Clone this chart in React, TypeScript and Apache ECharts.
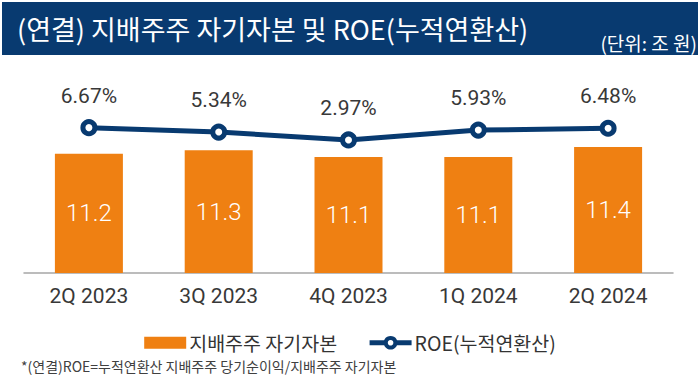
import React, { useEffect, useRef } from "react";
import * as echarts from "echarts";

const categories = ["2Q 2023", "3Q 2023", "4Q 2023", "1Q 2024", "2Q 2024"];
const equityValues = [11.2, 11.3, 11.1, 11.1, 11.4];
const roeValues = [6.67, 5.34, 2.97, 5.93, 6.48];
const seriesNames = ["지배주주 자기자본", "ROE(누적연환산)"];
const titleText = "(연결) 지배주주 자기자본 및 ROE(누적연환산)";
const unitText = "(단위: 조 원)";
const footnoteText = "*(연결)ROE=누적연환산 지배주주 당기순이익/지배주주 자기자본";

const NAVY = "#083A70";
const ORANGE = "#EF8012";
const KR = '"Noto Sans CJK KR", "Noto Sans", sans-serif';
const NUM = 'Roboto, "Liberation Sans", sans-serif';

export default function App() {
  const ref = useRef<HTMLDivElement>(null);

  useEffect(() => {
    if (!ref.current) return;
    const chart = echarts.init(ref.current, null, { renderer: "svg" });
    chart.setOption({
      animation: false,
      backgroundColor: "#ffffff",
      grid: { left: 24, right: 27, top: 90, bottom: 106, containLabel: false },
      graphic: [
        {
          type: "rect",
          shape: { x: 2, y: 2, width: 696, height: 53 },
          style: { fill: NAVY },
          silent: true,
        },
        {
          type: "text",
          x: 17,
          y: 28,
          style: {
            text: titleText,
            fill: "#ffffff",
            fontSize: 27,
            fontWeight: "normal",
            fontFamily: KR,
            verticalAlign: "middle",
          },
        },
        {
          type: "text",
          x: 697,
          y: 42,
          style: {
            text: unitText,
            fill: "#ffffff",
            fontSize: 19,
            fontFamily: KR,
            align: "right",
            verticalAlign: "middle",
          },
        },
        {
          type: "text",
          x: 21,
          y: 366,
          style: {
            text: footnoteText,
            fill: "#404040",
            fontSize: 14,
            fontFamily: KR,
            verticalAlign: "middle",
          },
        },
      ],
      legend: {
        left: "center",
        top: 328,
        itemWidth: 42,
        itemHeight: 12,
        itemGap: 30,
        textStyle: { fontSize: 19.5, color: "#333333", fontFamily: KR, padding: [0, 0, 0, -2] },
        data: [
          { name: seriesNames[0], icon: "rect" },
          {
            name: seriesNames[1],
            lineStyle: { width: 5, color: NAVY },
            itemStyle: { color: "#ffffff", borderColor: NAVY, borderWidth: 4 },
          },
        ],
      },
      xAxis: {
        type: "category",
        data: categories,
        boundaryGap: true,
        axisLine: { show: true, onZero: false, lineStyle: { color: "#A6A6A6", width: 1.5 } },
        axisTick: { show: false },
        axisLabel: { color: "#383838", fontSize: 21, fontFamily: NUM, margin: 12 },
      },
      yAxis: [
        {
          type: "value",
          min: 7.67,
          max: 13.084,
          show: false,
          splitLine: { show: false },
        },
        {
          type: "value",
          min: -37.1,
          max: 18.0,
          show: false,
          splitLine: { show: false },
        },
      ],
      series: [
        {
          name: seriesNames[0],
          type: "bar",
          yAxisIndex: 0,
          data: equityValues,
          barWidth: 68,
          itemStyle: { color: ORANGE },
          label: {
            show: true,
            position: "inside",
            color: "#ffffff",
            fontSize: 24,
            fontWeight: 300,
            fontFamily: NUM,
            formatter: (p: any) => Number(p.value).toFixed(1),
          },
        },
        {
          name: seriesNames[1],
          type: "line",
          yAxisIndex: 1,
          data: roeValues,
          symbol: "circle",
          symbolSize: 12,
          lineStyle: { color: NAVY, width: 5 },
          itemStyle: { color: "#ffffff", borderColor: NAVY, borderWidth: 5 },
          z: 5,
          label: {
            show: true,
            position: "top",
            distance: 13,
            color: "#383838",
            fontSize: 21,
            fontFamily: NUM,
            formatter: (p: any) => Number(p.value).toFixed(2) + "%",
          },
        },
      ],
    });
    return () => chart.dispose();
  }, []);

  return <div ref={ref} style={{ width: 700, height: 379, position: "absolute", left: 0, top: 0 }} />;
}
